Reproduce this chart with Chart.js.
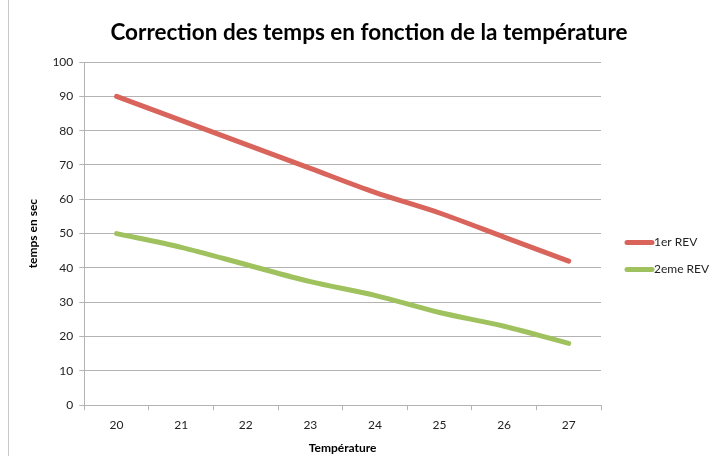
<!DOCTYPE html>
<html>
<head>
<meta charset="utf-8">
<script src="https://cdn.jsdelivr.net/npm/chart.js@4"></script>
<style>
  html, body { margin: 0; padding: 0; background: #fff; }
  #wrap { position: relative; width: 716px; height: 456px; }
  #edge { position: absolute; left: 8px; top: 0; width: 1px; height: 456px; background: #c8c8c8; }
</style>
</head>
<body>
<div id="wrap">
  <div id="edge"></div>
  <canvas id="chart" width="716" height="456"></canvas>
</div>
<script>
// Donnees
const temperatures = ['20', '21', '22', '23', '24', '25', '26', '27'];
const rev1 = [90, 83, 76, 69, 62, 56, 49, 42];
const rev2 = [50, 46, 41, 36, 32, 27, 23, 18];

const FONT = "Lato, 'Liberation Sans', sans-serif";
const GRID = '#b3b3b3';

// Legende dessinee a droite de la zone du graphique (style Excel)
const sideLegend = {
    id: 'sideLegend',
    afterDraw(chart) {
        const ctx = chart.ctx;
        const area = chart.chartArea;
        const x0 = area.right + 24;
        const yMid = (area.top + area.bottom) / 2 + 9;
        ctx.save();
        ctx.font = '12px ' + FONT;
        ctx.textBaseline = 'middle';
        chart.data.datasets.forEach((ds, i) => {
            const y = yMid + i * 27;
            ctx.strokeStyle = ds.borderColor;
            ctx.lineWidth = 5;
            ctx.lineCap = 'round';
            ctx.beginPath();
            ctx.moveTo(x0 + 2, y);
            ctx.lineTo(x0 + 27, y);
            ctx.stroke();
            ctx.fillStyle = '#222';
            ctx.fillText(ds.label, x0 + 29, y);
        });
        ctx.restore();
    },
};

new Chart(document.getElementById('chart'), {
    type: 'line',
    data: {
        labels: temperatures,
        datasets: [
            {
                label: '1er REV',
                data: rev1,
                borderColor: '#d9645c',
                backgroundColor: '#d9645c',
                borderWidth: 5,
                pointRadius: 0,
                tension: 0.3,
                borderCapStyle: 'round',
            },
            {
                label: '2eme REV',
                data: rev2,
                borderColor: '#9fc25f',
                backgroundColor: '#9fc25f',
                borderWidth: 5,
                pointRadius: 0,
                tension: 0.3,
                borderCapStyle: 'round',
            },
        ],
    },
    options: {
        responsive: false,
        animation: false,
        layout: { padding: { left: 22, right: 0, top: 9, bottom: 0 } },
        plugins: {
            title: {
                display: true,
                text: 'Correction des temps en fonction de la température',
                color: '#000',
                font: { family: FONT, size: 22.5, weight: 'bold' },
                padding: { top: 10, bottom: 16 },
            },
            legend: { display: false },
            tooltip: { enabled: false },
        },
        scales: {
            x: {
                offset: true,
                grid: {
                    offset: true,
                    drawOnChartArea: false,
                    drawTicks: true,
                    tickLength: 5,
                    color: GRID,
                },
                border: { color: GRID },
                ticks: { color: '#222', font: { family: FONT, size: 12 }, padding: 8 },
                title: {
                    display: true,
                    text: 'Température',
                    color: '#000',
                    font: { family: FONT, size: 12, weight: 'bold' },
                    padding: { top: 0, bottom: 1 },
                },
            },
            y: {
                min: 0,
                max: 100,
                ticks: { stepSize: 10, color: '#222', font: { family: FONT, size: 12 }, padding: 6 },
                grid: { color: GRID, tickLength: 5 },
                border: { color: GRID },
                title: {
                    display: true,
                    text: 'temps en sec',
                    color: '#000',
                    font: { family: FONT, size: 12, weight: 'bold' },
                    padding: { bottom: 6 },
                },
            },
            // axe vide qui reserve la place de la legende a droite
            side: {
                type: 'linear',
                position: 'right',
                display: true,
                grid: { display: false },
                border: { display: false },
                ticks: { display: false },
                afterFit(scale) { scale.width = 115; },
            },
        },
    },
    plugins: [sideLegend],
});
</script>
</body>
</html>
